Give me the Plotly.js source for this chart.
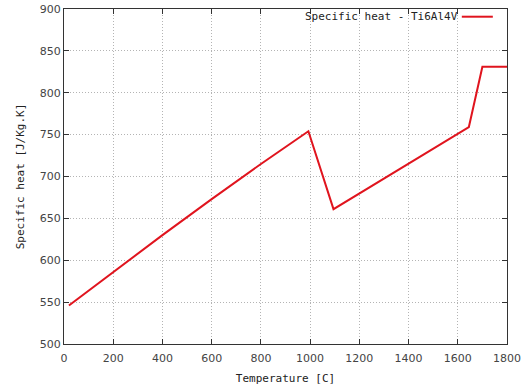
<!DOCTYPE html>
<html>
<head>
<meta charset="utf-8">
<script src="https://cdn.plot.ly/plotly-3.0.1.min.js"></script>
<style>html,body{margin:0;padding:0;background:#fff;}#chart{width:526px;height:390px;}</style>
</head>
<body>
<div id="chart"></div>
<script>
// Temperature [C]
const temperature = [20, 200, 400, 600, 800, 993, 1095, 1645, 1700, 1800];
// Specific heat [J/Kg.K]
const specificHeat = [546, 586, 630, 673, 715, 754, 661, 759, 831, 831];
const seriesName = 'Specific heat - Ti6Al4V';
const xTicks = [0, 200, 400, 600, 800, 1000, 1200, 1400, 1600, 1800];
const yTicks = [500, 550, 600, 650, 700, 750, 800, 850, 900];

const monoFont = {family: 'DejaVu Sans Mono, monospace', size: 11, color: '#222'};
const tickFont = {family: 'DejaVu Sans, sans-serif', size: 11, color: '#444'};

const trace = {
  x: temperature, y: specificHeat, type: 'scatter', mode: 'lines',
  name: seriesName, line: {color: '#e0141e', width: 2}, showlegend: false
};

const axisCommon = {
  showline: true, linecolor: '#333', linewidth: 1, mirror: 'ticks',
  ticks: 'inside', ticklen: 5, tickcolor: '#333',
  showgrid: true, gridcolor: '#b4b4b4', griddash: '1px,2px', gridwidth: 1,
  zeroline: false, tickfont: tickFont
};

const layout = {
  width: 526, height: 390,
  margin: {l: 64, r: 19, t: 9, b: 46},
  paper_bgcolor: '#fff', plot_bgcolor: '#fff',
  xaxis: Object.assign({}, axisCommon, {
    range: [0, 1800], tickvals: xTicks, ticktext: xTicks.map(String),
    ticklabelstandoff: 4,
    title: {text: 'Temperature [C]', font: monoFont, standoff: 10}
  }),
  yaxis: Object.assign({}, axisCommon, {
    range: [500, 900], tickvals: yTicks, ticktext: yTicks.map(String),
    title: {text: 'Specific heat [J/Kg.K]', font: monoFont, standoff: 12}
  }),
  annotations: [{
    xref: 'paper', yref: 'paper', x: 0.893, y: 0.977, xanchor: 'right', yanchor: 'middle',
    text: seriesName, showarrow: false, font: monoFont
  }],
  shapes: [{
    type: 'line', xref: 'paper', yref: 'paper', x0: 0.898, x1: 0.968, y0: 0.977, y1: 0.977,
    line: {color: '#e0141e', width: 2}
  }]
};

Plotly.newPlot('chart', [trace], layout, {staticPlot: true, displayModeBar: false});
</script>
</body>
</html>
